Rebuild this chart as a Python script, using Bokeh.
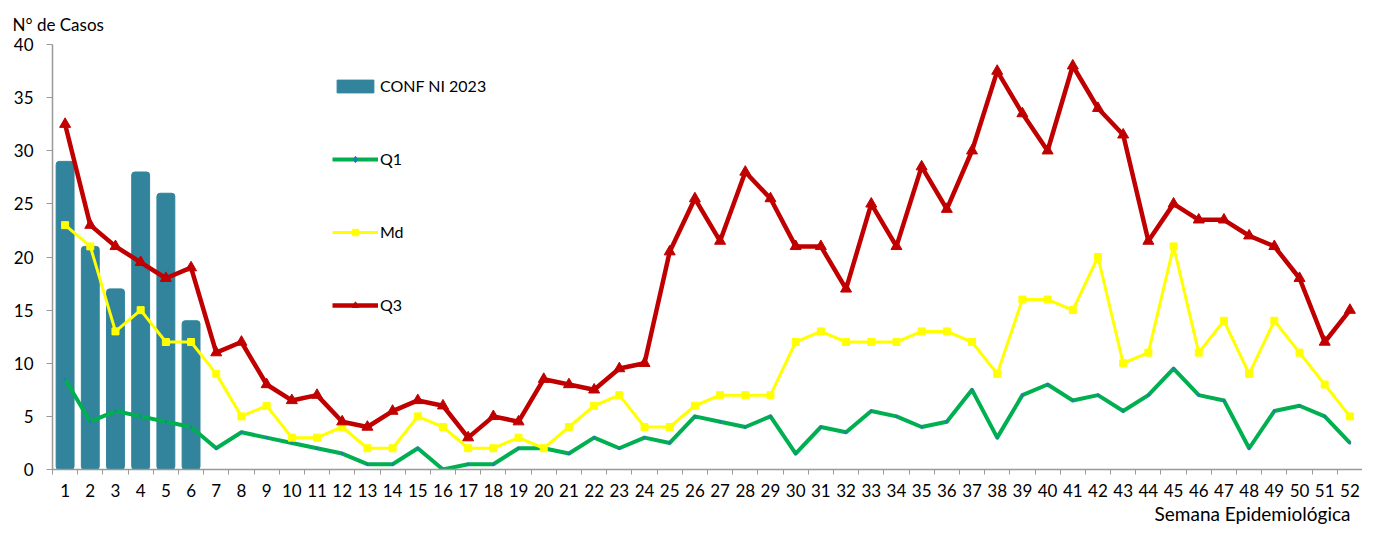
from bokeh.plotting import figure
from bokeh.models import FixedTicker, Legend, LegendItem, Title, Range1d, ColumnDataSource
from bokeh.embed import file_html
from bokeh.resources import INLINE

# ---------------- data ----------------
weeks = list(range(1, 53))
week_edges = [w - 0.5 for w in weeks] + [52.5]
y_ticks = [0, 5, 10, 15, 20, 25, 30, 35, 40]

conf_weeks = [1, 2, 3, 4, 5, 6]
conf_2023 = [29, 21, 17, 28, 26, 14]

q1 = [8.5, 4.5, 5.5, 5, 4.5, 4, 2, 3.5, 3, 2.5, 2, 1.5, 0.5, 0.5, 2, 0,
      0.5, 0.5, 2, 2, 1.5, 3, 2, 3, 2.5, 5, 4.5, 4, 5, 1.5, 4, 3.5, 5.5,
      5, 4, 4.5, 7.5, 3, 7, 8, 6.5, 7, 5.5, 7, 9.5, 7, 6.5, 2, 5.5, 6, 5, 2.5]
md = [23, 21, 13, 15, 12, 12, 9, 5, 6, 3, 3, 4, 2, 2, 5, 4,
      2, 2, 3, 2, 4, 6, 7, 4, 4, 6, 7, 7, 7, 12, 13, 12, 12,
      12, 13, 13, 12, 9, 16, 16, 15, 20, 10, 11, 21, 11, 14, 9, 14, 11, 8, 5]
q3 = [32.5, 23, 21, 19.5, 18, 19, 11, 12, 8, 6.5, 7, 4.5, 4, 5.5, 6.5, 6,
      3, 5, 4.5, 8.5, 8, 7.5, 9.5, 10, 20.5, 25.5, 21.5, 28, 25.5, 21, 21, 17, 25,
      21, 28.5, 24.5, 30, 37.5, 33.5, 30, 38, 34, 31.5, 21.5, 25, 23.5, 23.5, 22, 21, 18, 12, 15]

labels = ["CONF NI 2023", "Q1", "Md", "Q3"]
y_title = "N° de Casos"
x_title = "Semana Epidemiológica"

FONT = "Lato"
TEAL = "#31849B"
GREEN = "#00B050"
YELLOW = "#FFFF00"
RED = "#C00000"
AXIS = "#999999"

p = figure(width=1362, height=524, output_backend="svg", toolbar_location=None,
           x_range=Range1d(0.5, 52.5), y_range=Range1d(0, 40),
           min_border_left=52, min_border_right=0, min_border_top=44, min_border_bottom=52)
p.outline_line_color = None
p.xgrid.visible = False
p.ygrid.visible = False
p.background_fill_color = "white"
p.border_fill_color = "white"

p.title.text = y_title
p.title.align = "left"
p.title.offset = -40
p.title.standoff = 19
p.title.text_font = FONT
p.title.text_font_size = "17px"
p.title.text_font_style = "normal"
p.title.text_color = "black"

bars = p.vbar(x=conf_weeks, top=conf_2023, width=0.71, fill_color=TEAL, line_color=TEAL,
              border_radius=3)

src = ColumnDataSource(dict(x=weeks, q1=q1, md=md, q3=q3))
l1 = p.line("x", "q1", source=src, line_color=GREEN, line_width=4, line_join="round")
s1 = p.scatter("x", "q1", source=src, marker="diamond", size=3, fill_color="#2E75B6",
               line_color="#2E75B6")
l2 = p.line("x", "md", source=src, line_color=YELLOW, line_width=3, line_join="round")
s2 = p.scatter("x", "md", source=src, marker="square", size=7, fill_color=YELLOW,
               line_color=YELLOW)
l3 = p.line("x", "q3", source=src, line_color=RED, line_width=4.5, line_join="round")
s3 = p.scatter("x", "q3", source=src, marker="triangle", size=11, fill_color=RED,
               line_color=RED)

# axes
xa = p.xaxis[0]
xa.ticker = FixedTicker(ticks=weeks, minor_ticks=week_edges)
xa.major_tick_out = 0
xa.major_tick_in = 0
xa.minor_tick_out = 5
xa.minor_tick_in = 0
xa.minor_tick_line_color = AXIS
xa.axis_line_color = AXIS
xa.axis_line_width = 1.5
xa.major_label_standoff = 9
xa.major_label_text_font = FONT
xa.major_label_text_font_size = "17px"
xa.major_label_text_color = "black"

ya = p.yaxis[0]
ya.ticker = FixedTicker(ticks=y_ticks)
ya.major_tick_out = 6
ya.major_tick_in = 0
ya.minor_tick_out = 0
ya.minor_tick_in = 0
ya.major_tick_line_color = AXIS
ya.axis_line_color = AXIS
ya.axis_line_width = 1.5
ya.major_label_standoff = 13
ya.major_label_text_font = FONT
ya.major_label_text_font_size = "17px"
ya.major_label_text_color = "black"

p.add_layout(Title(text=x_title, align="right", offset=12, standoff=0,
                   text_font=FONT, text_font_size="19px", text_font_style="normal",
                   text_color="black"), "below")

legend = Legend(items=[
    LegendItem(label=labels[0], renderers=[bars]),
    LegendItem(label=labels[1], renderers=[l1, s1]),
    LegendItem(label=labels[2], renderers=[l2, s2]),
    LegendItem(label=labels[3], renderers=[l3, s3]),
], location=(280, 155), orientation="vertical",
    glyph_width=46, glyph_height=16, label_height=16, label_width=20,
    label_standoff=2, spacing=54, padding=0, margin=0,
    border_line_color=None, background_fill_alpha=0,
    label_text_font=FONT, label_text_font_size="16px", label_text_color="black")
p.add_layout(legend, "center")

open("out.html", "w").write(file_html(p, INLINE))
